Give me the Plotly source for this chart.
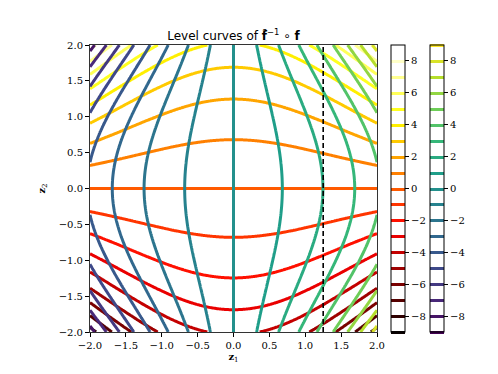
import numpy as np
import plotly.graph_objects as go

# grid on which the composition is evaluated
z1_range = [-2.0, 2.0]
z2_range = [-2.0, 2.0]
n_grid = 240

# f̂^{-1} ∘ f = A^T sinh(A z) with A a 45 degree rotation
mixing = [[1.0, 1.0], [1.0, -1.0]]
mixing_scale = 1 / np.sqrt(2)

levels = dict(start=-9, end=9, size=1)
cbar_ticks = [-8, -6, -4, -2, 0, 2, 4, 6, 8]
axis_ticks = [-2.0, -1.5, -1.0, -0.5, 0.0, 0.5, 1.0, 1.5, 2.0]
dashed_z1 = 1.25

# matplotlib "hot"
hot = [
    [0.0, "rgb(10,0,0)"],
    [0.365, "rgb(255,0,0)"],
    [0.746, "rgb(255,255,0)"],
    [1.0, "rgb(255,255,255)"],
]


def main():
    z1 = np.linspace(*z1_range, n_grid)
    z2 = np.linspace(*z2_range, n_grid)
    X, Y = np.meshgrid(z1, z2)
    A = np.array(mixing) * mixing_scale
    s1 = np.sinh(A[0, 0] * X + A[0, 1] * Y)
    s2 = np.sinh(A[1, 0] * X + A[1, 1] * Y)
    out1 = A[0, 0] * s1 + A[1, 0] * s2
    out2 = A[0, 1] * s1 + A[1, 1] * s2
    out1 *= 2 * mixing_scale
    out2 *= 2 * mixing_scale

    tick_font = dict(family="DejaVu Serif", size=10, color="black")
    fig = go.Figure()

    def cbar(x):
        return dict(
            x=x,
            xanchor="left",
            xpad=0,
            ypad=0,
            y=0.5,
            yanchor="middle",
            len=1,
            thickness=14,
            outlinecolor="black",
            outlinewidth=1,
            tickvals=cbar_ticks,
            ticks="outside",
            ticklen=4,
            tickcolor="black",
            tickfont=tick_font,
        )

    fig.add_contour(
        x=z1,
        y=z2,
        z=out2,
        contours=dict(coloring="lines", **levels),
        colorscale=hot,
        zmin=-9,
        zmax=9,
        line=dict(width=3),
        colorbar=cbar(1.049),
        hoverinfo="skip",
    )
    fig.add_contour(
        x=z1,
        y=z2,
        z=out1,
        contours=dict(coloring="lines", **levels),
        colorscale="Viridis",
        zmin=-9,
        zmax=9,
        line=dict(width=3),
        colorbar=cbar(1.185),
        hoverinfo="skip",
    )
    fig.add_vline(x=dashed_z1, line=dict(color="black", width=1.6, dash="5px,3px"))

    axis = dict(
        tickvals=axis_ticks,
        tickformat=".1f",
        ticks="outside",
        ticklen=4,
        tickcolor="black",
        showline=True,
        linecolor="#333",
        linewidth=1,
        mirror=True,
        showgrid=False,
        zeroline=False,
        tickfont=tick_font,
        automargin=False,
    )
    fig.update_xaxes(
        range=z1_range,
        title=dict(text="<b>z</b><sub>1</sub>", font=tick_font, standoff=0),
        **axis,
    )
    fig.update_yaxes(
        range=z2_range,
        title=dict(text="<b>z</b><sub>2</sub>", font=tick_font, standoff=11),
        **axis,
    )
    # the page body adds an 8px offset, so the figure is a bit smaller than the window
    fig.update_layout(
        width=482,
        height=358,
        margin=dict(l=82, r=113, t=37, b=34, autoexpand=False),
        plot_bgcolor="white",
        paper_bgcolor="white",
        showlegend=False,
        title=dict(
            text="Level curves of <b>f̂</b><sup>−1</sup> ∘ <b>f</b>",
            x=0.5,
            xref="paper",
            xanchor="center",
            y=1,
            yref="paper",
            yanchor="bottom",
            pad=dict(b=5),
            font=dict(family="DejaVu Sans", size=12, color="black"),
        ),
    )
    fig.write_html("out.html")


if __name__ == "__main__":
    main()
